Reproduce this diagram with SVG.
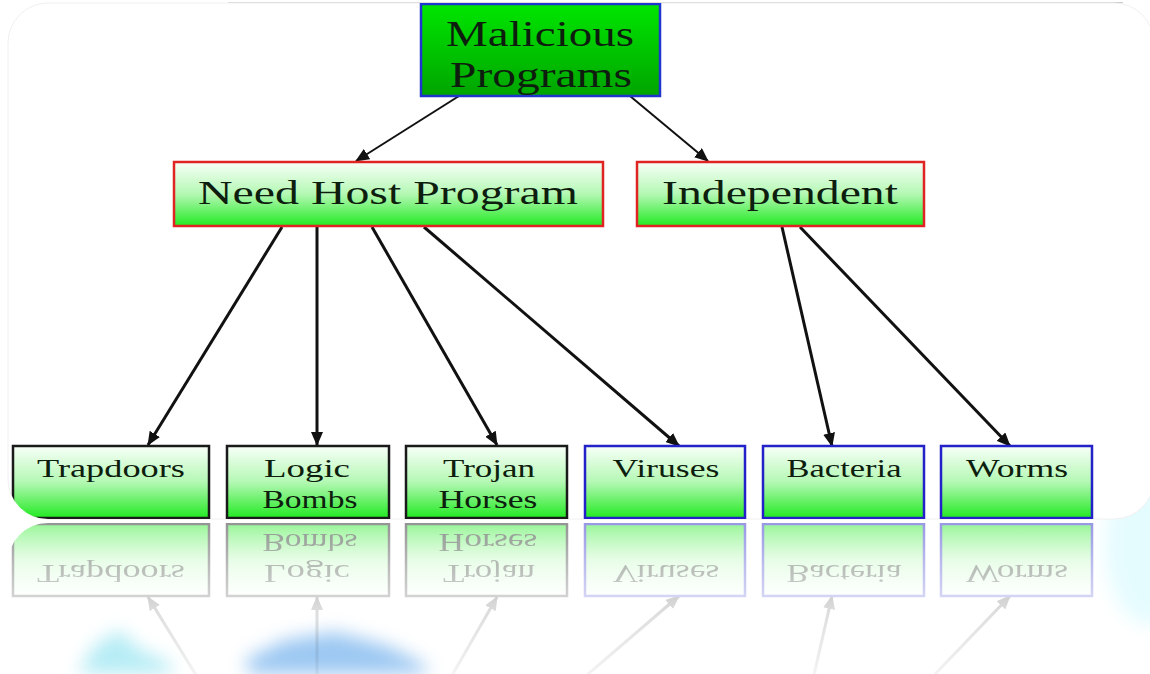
<svg xmlns="http://www.w3.org/2000/svg" xmlns:xlink="http://www.w3.org/1999/xlink" width="1150" height="674" viewBox="0 0 1150 674">
  <defs>
    <style>
      .lbl { font-family: "Liberation Serif", "Times New Roman", serif; fill: #0e1e0e; text-anchor: middle; }
      .big { font-size: 36px; }
      .mid { font-size: 33px; }
      .sm { font-size: 26px; }
      .box-top { fill: url(#gTop); stroke: #2035d0; stroke-width: 2.5; }
      .box-red { fill: url(#gLight); stroke: #e02424; stroke-width: 2.5; }
      .box-blk { fill: url(#gLight); stroke: #1a1a1a; stroke-width: 2.5; }
      .box-blu { fill: url(#gLight); stroke: #2222c8; stroke-width: 2.5; }
      .conn { stroke: #111; fill: none; }
      .thin { stroke-width: 2; }
      .thick { stroke-width: 3; }
    </style>
    <linearGradient id="gTop" x1="0" y1="0" x2="0" y2="1">
      <stop offset="0" stop-color="#00e600"/>
      <stop offset="1" stop-color="#00a400"/>
    </linearGradient>
    <linearGradient id="gLight" x1="0" y1="0" x2="0" y2="1">
      <stop offset="0" stop-color="#f8fff8"/>
      <stop offset="0.5" stop-color="#b4f8b4"/>
      <stop offset="1" stop-color="#22ea22"/>
    </linearGradient>
    <linearGradient id="gFade" gradientUnits="userSpaceOnUse" x1="0" y1="520" x2="0" y2="674">
      <stop offset="0" stop-color="#fff" stop-opacity="0.48"/>
      <stop offset="0.3" stop-color="#fff" stop-opacity="0.3"/>
      <stop offset="0.6" stop-color="#fff" stop-opacity="0.14"/>
      <stop offset="1" stop-color="#fff" stop-opacity="0.05"/>
    </linearGradient>
    <mask id="reflMask" maskUnits="userSpaceOnUse" x="0" y="520" width="1150" height="154">
      <rect x="0" y="520" width="1150" height="154" fill="url(#gFade)"/>
    </mask>
    <clipPath id="panelClip">
      <rect x="8" y="3" width="1146" height="516" rx="40" ry="40"/>
    </clipPath>
    <marker id="arr" markerUnits="userSpaceOnUse" markerWidth="14" markerHeight="12" refX="13" refY="6" orient="auto">
      <path d="M0,0 L14,6 L0,12 z" fill="#111"/>
    </marker>
    <filter id="blur" x="-50%" y="-50%" width="200%" height="200%">
      <feGaussianBlur stdDeviation="9"/>
    </filter>
    <linearGradient id="gShadow" x1="0" y1="0" x2="0" y2="1">
      <stop offset="0" stop-color="#b8b8b8"/>
      <stop offset="1" stop-color="#ffffff" stop-opacity="0"/>
    </linearGradient>
  </defs>

  <!-- background -->
  <rect x="0" y="0" width="1150" height="674" fill="#ffffff"/>
  <g id="backdrop-blobs" filter="url(#blur)" opacity="0.75">
    <path d="M78,674 L95,645 L120,630 L140,650 L165,660 L175,674 z" fill="#9ee6f2"/>
    <path d="M245,660 L285,640 L335,632 L385,645 L420,662 L430,674 L250,674 z" fill="#7cb6ee"/>
    <ellipse cx="1150" cy="545" rx="45" ry="80" fill="#ddfbff"/>
  </g>
  <rect x="228" y="2" width="895" height="3" fill="url(#gShadow)"/>
  <rect x="8" y="3" width="1146" height="516" rx="40" ry="40" fill="#ffffff" stroke="#f0f0f0" stroke-width="1"/>

  <g id="diagram" clip-path="url(#panelClip)">
    <g id="connectors">
      <line class="conn thin" x1="459" y1="96" x2="356" y2="161" marker-end="url(#arr)"/>
      <line class="conn thin" x1="630" y1="96" x2="708" y2="161" marker-end="url(#arr)"/>
      <line class="conn thick" x1="282" y1="227" x2="148" y2="445" marker-end="url(#arr)"/>
      <line class="conn thick" x1="317" y1="227" x2="317" y2="445" marker-end="url(#arr)"/>
      <line class="conn thick" x1="372" y1="227" x2="497" y2="445" marker-end="url(#arr)"/>
      <line class="conn thick" x1="424" y1="227" x2="679" y2="446" marker-end="url(#arr)"/>
      <line class="conn thick" x1="782" y1="227" x2="832" y2="446" marker-end="url(#arr)"/>
      <line class="conn thick" x1="800" y1="227" x2="1010" y2="446" marker-end="url(#arr)"/>
    </g>

    <g id="node-malicious">
      <rect class="box-top" x="421" y="4" width="239" height="92"/>
      <text class="lbl big" x="540" y="46" textLength="188" lengthAdjust="spacingAndGlyphs">Malicious</text>
      <text class="lbl big" x="541" y="87" textLength="182" lengthAdjust="spacingAndGlyphs">Programs</text>
    </g>
    <g id="node-needhost">
      <rect class="box-red" x="174" y="162" width="429" height="64"/>
      <text class="lbl mid" x="388" y="204" textLength="380" lengthAdjust="spacingAndGlyphs">Need Host Program</text>
    </g>
    <g id="node-independent">
      <rect class="box-red" x="637" y="162" width="287" height="64"/>
      <text class="lbl mid" x="780" y="204" textLength="236" lengthAdjust="spacingAndGlyphs">Independent</text>
    </g>

    <g id="node-trapdoors">
      <rect class="box-blk" x="13" y="446" width="196" height="72"/>
      <text class="lbl sm" x="111" y="477" textLength="148" lengthAdjust="spacingAndGlyphs">Trapdoors</text>
    </g>
    <g id="node-logicbombs">
      <rect class="box-blk" x="227" y="446" width="162" height="72"/>
      <text class="lbl sm" x="307" y="477" textLength="86" lengthAdjust="spacingAndGlyphs">Logic</text>
      <text class="lbl sm" x="310" y="508" textLength="95" lengthAdjust="spacingAndGlyphs">Bombs</text>
    </g>
    <g id="node-trojan">
      <rect class="box-blk" x="406" y="446" width="161" height="72"/>
      <text class="lbl sm" x="489" y="477" textLength="92" lengthAdjust="spacingAndGlyphs">Trojan</text>
      <text class="lbl sm" x="488" y="508" textLength="99" lengthAdjust="spacingAndGlyphs">Horses</text>
    </g>
    <g id="node-viruses">
      <rect class="box-blu" x="585" y="446" width="160" height="72"/>
      <text class="lbl sm" x="666" y="477" textLength="107" lengthAdjust="spacingAndGlyphs">Viruses</text>
    </g>
    <g id="node-bacteria">
      <rect class="box-blu" x="763" y="446" width="161" height="72"/>
      <text class="lbl sm" x="844" y="477" textLength="115" lengthAdjust="spacingAndGlyphs">Bacteria</text>
    </g>
    <g id="node-worms">
      <rect class="box-blu" x="941" y="446" width="151" height="72"/>
      <text class="lbl sm" x="1017" y="477" textLength="102" lengthAdjust="spacingAndGlyphs">Worms</text>
    </g>
  </g>

  <!-- mirrored reflection -->
  <g id="reflection" mask="url(#reflMask)">
    <use xlink:href="#diagram" transform="matrix(1 0 0 -1 0 1042)"/>
  </g>
</svg>
